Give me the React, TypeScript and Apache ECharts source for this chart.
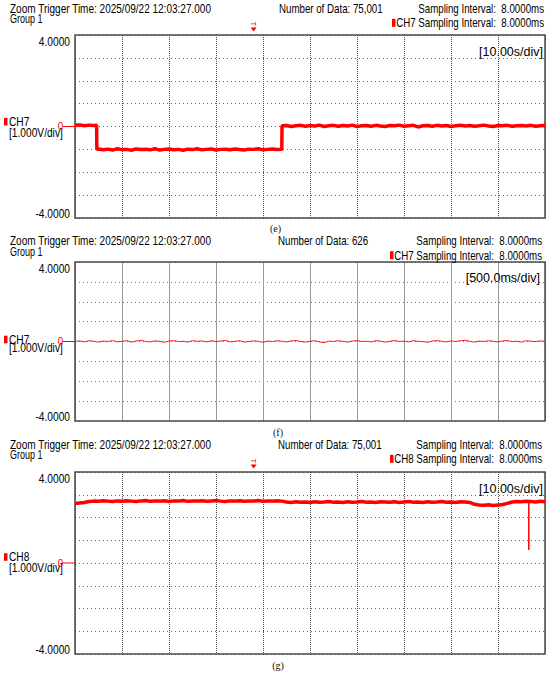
import { useEffect, useRef } from "react";
import * as echarts from "echarts";

// ---------- texts ----------
const triggerTimeText = "Zoom Trigger Time: 2025/09/22 12:03:27.000";
const groupText = "Group 1";
const dataCounts = ["75,001", "626", "75,001"];
const channelNames = ["CH7", "CH7", "CH8"];
const timeDivLabels = ["[10.00s/div]", "[500.0ms/div]", "[10.00s/div]"];
const captions = ["(e)", "(f)", "(g)"];
const voltDivLabel = "[1.000V/div]";
const samplingText = "Sampling Interval:  8.0000ms";
const yTickLabels = ["4.0000", "-4.0000"];
const zeroMarkerText = "0";

// ---------- axes ----------
const xMax = [100, 5, 100];
const xStep = [10, 0.5, 10];
const yMin = -4;
const yMax = 4;
const yStep = 1;
const triggerTimes = [38, null, 38];

// ---------- data ----------
// (e) CH7, 10 s/div, [time s, volt V]
const ch7ZoomE: [number, number][] = [
  [0, 0.05], [1, 0.07], [2, 0.03], [3, 0.06], [4, 0.04], [4.6, 0.05],
  [4.65, -0.99], [5, -0.98], [6, -1.02], [7, -0.99], [8, -1.03], [9, -0.97],
  [10, -1.01], [11, -1.0], [12, -1.04], [13, -0.98], [14, -1.01], [15, -0.99],
  [16, -1.02], [17, -0.97], [18, -1.03], [19, -1.0], [20, -0.98], [21, -1.02],
  [22, -1.0], [23, -1.04], [24, -0.99], [25, -1.01], [26, -0.97], [27, -1.02],
  [28, -1.0], [29, -0.98], [30, -1.03], [31, -1.0], [32, -0.99], [33, -1.02],
  [34, -0.98], [35, -1.01], [36, -1.03], [37, -0.99], [38, -1.0], [39, -0.97],
  [40, -1.02], [41, -1.0], [42, -0.98], [43, -1.01], [44, -1.0],
  [44.05, 0.03], [45, 0.04], [46, 0.0], [47, 0.03], [48, 0.05], [49, 0.01],
  [50, 0.04], [51, 0.02], [52, 0.06], [53, 0.0], [54, 0.03], [55, 0.05],
  [56, 0.01], [57, 0.04], [58, 0.02], [59, 0.06], [60, 0.0], [61, 0.03],
  [62, 0.04], [63, 0.01], [64, 0.05], [65, 0.02], [66, 0.0], [67, 0.04],
  [68, 0.03], [69, 0.06], [70, 0.01], [71, 0.03], [72, 0.05], [73, -0.02],
  [74, 0.03], [75, 0.04], [76, 0.01], [77, 0.05], [78, 0.02], [79, 0.04],
  [80, 0.0], [81, 0.03], [82, 0.05], [83, 0.02], [84, 0.04], [85, 0.01],
  [86, 0.03], [87, 0.06], [88, 0.02], [89, 0.0], [90, 0.04], [91, 0.03],
  [92, 0.05], [93, 0.01], [94, 0.03], [95, 0.04], [96, 0.02], [97, 0.05],
  [98, 0.01], [99, 0.03], [100, 0.04],
];

// (f) CH7, 500 ms/div, one value every 0.05 s
const ch7FineStep = 0.05;
const ch7Fine: number[] = [
  0.0, 0.03, -0.02, 0.04, 0.01, -0.03, 0.02, 0.0, 0.05, -0.02,
  0.01, 0.04, -0.03, 0.02, 0.06, 0.0, -0.02, 0.03, 0.01, -0.04,
  0.02, 0.05, 0.0, 0.01, -0.03, 0.04, 0.01, 0.03, -0.02, 0.04,
  0.0, 0.02, 0.06, -0.02, 0.01, 0.04, -0.03, 0.0, 0.03, 0.01,
  -0.04, 0.02, 0.0, 0.04, 0.01, -0.02, 0.03, 0.05, 0.0, -0.03,
  0.01, 0.04, -0.02, -0.06, 0.02, 0.0, 0.04, 0.01, -0.03, 0.02,
  0.05, 0.0, 0.01, -0.02, 0.04, 0.02, -0.03, 0.01, 0.05, 0.0,
  0.02, -0.02, 0.04, 0.01, 0.0, -0.04, 0.02, 0.05, 0.01, -0.02,
  0.03, 0.0, 0.04, 0.06, 0.01, -0.03, 0.02, 0.0, 0.04, 0.01,
  -0.02, 0.03, 0.05, 0.0, 0.01, -0.03, 0.04, 0.01, 0.0, 0.03, 0.01,
];

// (g) CH8, 10 s/div, [time s, volt V]
const ch8ZoomG: [number, number][] = [
  [0, 2.62], [1, 2.64], [2, 2.66], [3, 2.7], [4, 2.72], [5, 2.71], [6, 2.74],
  [7, 2.72], [8, 2.7], [9, 2.73], [10, 2.71], [11, 2.74], [12, 2.72], [13, 2.7],
  [14, 2.73], [15, 2.75], [16, 2.71], [17, 2.73], [18, 2.72], [19, 2.74],
  [20, 2.7], [21, 2.73], [22, 2.72], [23, 2.75], [24, 2.71], [25, 2.73],
  [26, 2.72], [27, 2.74], [28, 2.71], [29, 2.73], [30, 2.75], [31, 2.72],
  [32, 2.7], [33, 2.73], [34, 2.72], [35, 2.74], [36, 2.71], [37, 2.73],
  [38, 2.72], [39, 2.75], [40, 2.71], [41, 2.73], [42, 2.72], [43, 2.74],
  [44, 2.72], [45, 2.68], [46, 2.66], [47, 2.69], [48, 2.67], [49, 2.68],
  [50, 2.66], [51, 2.69], [52, 2.67], [53, 2.68], [54, 2.7], [55, 2.67],
  [56, 2.68], [57, 2.66], [58, 2.69], [59, 2.67], [60, 2.68], [61, 2.7],
  [62, 2.67], [63, 2.68], [64, 2.66], [65, 2.69], [66, 2.68], [67, 2.67],
  [68, 2.69], [69, 2.66], [70, 2.68], [71, 2.7], [72, 2.67], [73, 2.68],
  [74, 2.66], [75, 2.69], [76, 2.67], [77, 2.68], [78, 2.7], [79, 2.67],
  [80, 2.68], [81, 2.66], [82, 2.69], [83, 2.68], [84, 2.66], [85, 2.58],
  [86, 2.55], [87, 2.54], [88, 2.56], [89, 2.53], [90, 2.55], [91, 2.57],
  [92, 2.62], [93, 2.68], [94, 2.7], [95, 2.69], [96, 2.71], [97, 2.7],
  [98, 2.68], [99, 2.71], [100, 2.69],
];
// (g) the single narrow drop near the end, [time s, volt V]
const ch8Spike: [number, number][] = [
  [96.55, 2.68], [96.55, 0.57],
];

// ---------- layout ----------
const PLOT_LEFT = 75;
const PLOT_WIDTH = 470;
const gridTops = [35, 262, 472];
const gridHeights = [183, 159, 182];
const headerY = [8.3, 240.7, 444.3];
const dataCountX = [279, 278, 278];
const samplingRight = [544, 542, 542];
const divLabelRight = [543, 540, 543];
const divLabelDy = [17, 15.7, 17.3];
const chLabelDy = [-4.8, -2, -6];
const voltLabelDy = [6.5, 6.5, 4.5];
const captionPos = [
  [275.5, 228.5],
  [278, 432],
  [278, 665],
];

const SANS = '"Liberation Sans", Arial, Helvetica, sans-serif';
const SERIF = '"Liberation Serif", "Times New Roman", serif';
const RED = "#ff0000";
const TEXT = "#000000";

function txt(
  text: string,
  x: number,
  y: number,
  o: { sx?: number; fs?: number; align?: string; fill?: string; font?: string } = {}
) {
  const align = o.align ?? "left";
  return {
    type: "text",
    x,
    y,
    scaleX: o.sx ?? 0.81,
    silent: true,
    z: 10,
    style: {
      text,
      fill: o.fill ?? TEXT,
      fontSize: o.fs ?? 12,
      fontFamily: o.font ?? SANS,
      textAlign: align,
      align,
      textVerticalAlign: "middle",
      verticalAlign: "middle",
    },
  };
}

function buildOption() {
  const idx = [0, 1, 2];
  return {
    animation: false,
    backgroundColor: "#ffffff",
    grid: idx.map((i) => ({
      left: PLOT_LEFT,
      top: gridTops[i],
      width: PLOT_WIDTH,
      height: gridHeights[i],
      show: true,
      borderColor: "#4a4a4a",
      borderWidth: 1.5,
      backgroundColor: "transparent",
      z: 3,
    })),
    xAxis: idx.map((i) => ({
      gridIndex: i,
      type: "value",
      min: 0,
      max: xMax[i],
      interval: xStep[i],
      axisLine: { show: false },
      axisTick: { show: false },
      axisLabel: { show: false },
      splitLine: {
        show: true,
        lineStyle:
          i === 1
            ? { color: "#9a9a9a", width: 1, type: "solid" }
            : { color: "#4d4d4d", width: 1, type: [1, 1] },
      },
    })),
    yAxis: idx.map((i) => ({
      gridIndex: i,
      type: "value",
      min: yMin,
      max: yMax,
      interval: yStep,
      axisLine: { show: false },
      axisTick: { show: false },
      axisLabel: { show: false },
      splitLine: {
        show: true,
        lineStyle: { color: i === 1 ? "#7a7a7a" : "#666666", width: 1, type: [1, 3] },
      },
    })),
    series: [
      {
        type: "line",
        xAxisIndex: 0,
        yAxisIndex: 0,
        data: ch7ZoomE,
        symbol: "none",
        silent: true,
        z: 5,
        lineStyle: { color: RED, width: 3.5 },
      },
      {
        type: "line",
        xAxisIndex: 1,
        yAxisIndex: 1,
        data: ch7Fine.map((v, k) => [k * ch7FineStep, v]),
        symbol: "none",
        silent: true,
        z: 5,
        lineStyle: { color: "#ff1a1a", width: 1 },
      },
      {
        type: "line",
        xAxisIndex: 2,
        yAxisIndex: 2,
        data: ch8ZoomG,
        symbol: "none",
        silent: true,
        z: 5,
        lineStyle: { color: RED, width: 3.5 },
      },
      {
        type: "line",
        xAxisIndex: 2,
        yAxisIndex: 2,
        data: ch8Spike,
        symbol: "none",
        silent: true,
        z: 5,
        lineStyle: { color: RED, width: 1.5 },
      },
    ],
  };
}

function buildGraphics(chart: any) {
  const els: any[] = [];
  for (let i = 0; i < 3; i++) {
    const finder = { xAxisIndex: i, yAxisIndex: i };
    const top = chart.convertToPixel(finder, [0, yMax])[1];
    const bottom = chart.convertToPixel(finder, [0, yMin])[1];
    const zero = chart.convertToPixel(finder, [0, 0])[1];
    const left = chart.convertToPixel(finder, [0, 0])[0];
    const hy = headerY[i];

    // header
    els.push(txt(triggerTimeText, 10, hy, { sx: 0.835 }));
    els.push(txt(groupText, 10, hy + 10.5, { sx: 0.75 }));
    els.push(txt("Number of Data: " + dataCounts[i], dataCountX[i], hy));
    els.push(txt(samplingText, samplingRight[i], hy, { align: "right" }));
    els.push(
      txt(channelNames[i] + " " + samplingText, samplingRight[i], hy + 14.5, { align: "right" })
    );
    els.push({
      type: "rect",
      silent: true,
      z: 10,
      shape: { x: samplingRight[i] - 152, y: hy + 14.5 - 4, width: 3.5, height: 8 },
      style: { fill: RED },
    });
    els.push(
      txt(timeDivLabels[i], divLabelRight[i], top + divLabelDy[i], {
        align: "right",
        sx: 1,
        fs: 12.5,
      })
    );

    // y labels
    els.push(txt(yTickLabels[0], 70, top + 6.3, { align: "right", sx: 0.85 }));
    els.push(txt(yTickLabels[1], 70, bottom - 4, { align: "right", sx: 0.85 }));

    // channel label
    els.push({
      type: "rect",
      silent: true,
      z: 10,
      shape: { x: 4, y: zero + chLabelDy[i] - 3.8, width: 3.5, height: 7.6 },
      style: { fill: RED },
    });
    els.push(txt(channelNames[i], 9, zero + chLabelDy[i], { sx: 0.85 }));
    els.push(txt(voltDivLabel, 9, zero + voltLabelDy[i], { sx: 0.85 }));

    // zero marker
    els.push(txt(zeroMarkerText, 60.5, zero, { align: "center", sx: 0.9, fs: 11, fill: RED }));
    els.push({
      type: "line",
      silent: true,
      z: 10,
      shape: { x1: 63, y1: zero, x2: left, y2: zero },
      style: { stroke: RED, lineWidth: 1 },
    });

    // trigger marker
    const tt = triggerTimes[i];
    if (tt !== null) {
      const px = chart.convertToPixel(finder, [tt, yMax])[0];
      els.push({
        type: "text",
        x: px,
        y: top - 11,
        rotation: -Math.PI / 2,
        silent: true,
        z: 10,
        style: {
          text: "T",
          fill: RED,
          fontSize: 8,
          fontFamily: SANS,
          textAlign: "center",
          align: "center",
          textVerticalAlign: "middle",
          verticalAlign: "middle",
        },
      });
      els.push({
        type: "polygon",
        silent: true,
        z: 10,
        shape: {
          points: [
            [px - 3, top - 7.5],
            [px + 3, top - 7.5],
            [px, top - 3.5],
          ],
        },
        style: { fill: RED },
      });
    }

    // caption
    els.push(
      txt(captions[i], captionPos[i][0], captionPos[i][1], {
        align: "center",
        sx: 1,
        fs: 10,
        font: SERIF,
        fill: "#111",
      })
    );
  }
  return els;
}

export default function App() {
  const ref = useRef<HTMLDivElement>(null);
  useEffect(() => {
    document.body.style.margin = "0";
    const chart = echarts.init(ref.current as HTMLDivElement, null, { renderer: "svg" });
    chart.setOption(buildOption() as any);
    chart.setOption({ graphic: { elements: buildGraphics(chart) } } as any);
    return () => {
      chart.dispose();
    };
  }, []);
  return <div ref={ref} style={{ width: 550, height: 673, background: "#ffffff" }} />;
}
